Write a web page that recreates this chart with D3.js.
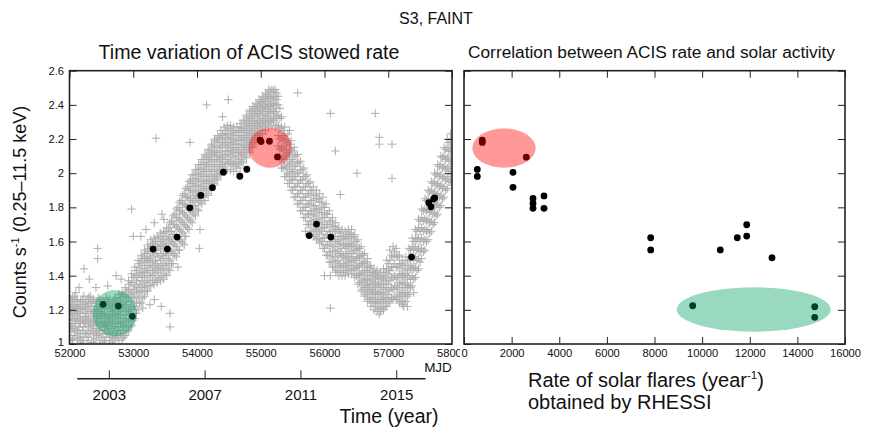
<!DOCTYPE html>
<html><head><meta charset="utf-8">
<script src="https://cdn.jsdelivr.net/npm/d3@7"></script>
<style>body{margin:0;background:#fff}svg{display:block}text{font-family:"Liberation Sans",Arial,Helvetica,sans-serif;fill:#111}</style>
</head><body><svg id="c" width="872" height="441"></svg>
<script>
// ---------- data ----------
const xTicksMJD = [52000,53000,54000,55000,56000,57000,58000];
const yTicks = [1,1.2,1.4,1.6,1.8,2,2.2,2.4,2.6];
const yearTicks = [2003,2007,2011,2015];
const flareTicks = [0,2000,4000,6000,8000,10000,12000,14000,16000];

// ACIS stowed rate measurements (black dots, left)
const acisMJD  = [52526,52766,52986,53311,53536,53688,53887,54060,54242,54414,54672,54782,54990,55005,55137,55262,55760,55875,56100,57366,57635,57671,57712,57728];
const acisRate = [1.232,1.222,1.162,1.556,1.556,1.626,1.797,1.870,1.916,2.006,1.982,2.023,2.194,2.185,2.187,2.095,1.635,1.702,1.626,1.509,1.827,1.803,1.850,1.855];

// correlation panel (right)
const flareRate = [769,769,2616,559,559,2058,2058,2898,2898,2898,3360,3360,7840,7840,10763,11477,11872,11872,12934,9604,14727,14727];
const flareAcis = [2.194,2.180,2.094,2.022,1.981,2.005,1.917,1.852,1.823,1.794,1.867,1.794,1.622,1.551,1.551,1.622,1.632,1.698,1.505,1.224,1.218,1.156];

// stowed background monitoring (grey crosses): [MJD, rates read in that column]
const bandCols = [
[52000,[1.05,1.11,1.14,1.19,1.24]],[52050,[1.03,1.09,1.15,1.18,1.22,1.27]],[52100,[1.07,1.12,1.17,1.21,1.25]],
[52150,[1.04,1.10,1.13,1.18,1.23]],[52200,[1.02,1.08,1.14,1.20,1.26]],[52250,[1.06,1.12,1.16,1.21,1.24]],
[52300,[1.04,1.10,1.15,1.22,1.27]],[52350,[1.08,1.13,1.18,1.22,1.25]],[52400,[1.03,1.09,1.14,1.19,1.24]],
[52450,[1.06,1.11,1.16,1.20,1.27]],[52500,[1.04,1.10,1.15,1.19,1.23]],[52550,[1.02,1.08,1.13,1.18,1.24]],
[52600,[1.06,1.11,1.15,1.21,1.25]],[52650,[1.04,1.09,1.14,1.19,1.22]],[52700,[1.03,1.10,1.16,1.21,1.26]],
[52750,[1.05,1.08,1.13,1.17,1.23]],[52800,[1.06,1.12,1.17,1.22,1.27]],[52850,[1.04,1.10,1.15,1.21,1.28]],
[52900,[1.07,1.13,1.19,1.25,1.31]],[52950,[1.10,1.17,1.22,1.29,1.35]],[53000,[1.14,1.21,1.27,1.32,1.39]],
[53050,[1.18,1.24,1.31,1.37,1.43]],[53100,[1.24,1.30,1.35,1.41,1.47]],[53150,[1.27,1.33,1.39,1.44,1.50]],
[53200,[1.31,1.36,1.42,1.48,1.53]],[53250,[1.34,1.40,1.45,1.50,1.56]],[53300,[1.37,1.43,1.48,1.54,1.59]],
[53350,[1.38,1.44,1.49,1.55,1.60]],[53400,[1.39,1.45,1.51,1.57,1.62]],[53450,[1.40,1.46,1.52,1.58,1.63]],
[53500,[1.41,1.47,1.53,1.59,1.65]],[53550,[1.44,1.50,1.56,1.62,1.68]],[53600,[1.47,1.54,1.60,1.66,1.72]],
[53650,[1.52,1.58,1.64,1.70,1.76]],[53700,[1.55,1.62,1.68,1.74,1.80]],[53750,[1.60,1.66,1.72,1.78,1.84]],
[53800,[1.63,1.70,1.76,1.82,1.88]],[53850,[1.68,1.74,1.80,1.86,1.92]],[53900,[1.72,1.78,1.84,1.90,1.96]],
[53950,[1.76,1.81,1.87,1.93,1.99]],[54000,[1.79,1.85,1.90,1.96,2.02]],[54050,[1.83,1.88,1.93,1.99,2.05]],
[54100,[1.86,1.91,1.96,2.02,2.08]],[54150,[1.88,1.94,1.99,2.05,2.10]],[54200,[1.91,1.96,2.02,2.08,2.13]],
[54250,[1.94,1.99,2.05,2.11,2.16]],[54300,[1.97,2.02,2.08,2.13,2.19]],[54350,[2.00,2.05,2.10,2.16,2.21]],
[54400,[2.03,2.08,2.13,2.18,2.23]],[54450,[2.05,2.10,2.15,2.20,2.25]],[54500,[2.06,2.11,2.16,2.21,2.26]],
[54550,[2.05,2.10,2.15,2.20,2.25]],[54600,[2.04,2.09,2.14,2.19,2.24]],[54650,[2.05,2.10,2.15,2.20,2.25]],
[54700,[2.07,2.12,2.17,2.22,2.27]],[54750,[2.10,2.15,2.20,2.25,2.30]],[54800,[2.13,2.18,2.23,2.28,2.33]],
[54850,[2.16,2.21,2.26,2.31,2.36]],[54900,[2.19,2.24,2.29,2.34,2.38]],[54950,[2.22,2.27,2.31,2.36,2.40]],
[55000,[2.25,2.29,2.34,2.38,2.42]],[55050,[2.27,2.31,2.36,2.40,2.44]],[55100,[2.29,2.33,2.38,2.42,2.46]],
[55150,[2.30,2.35,2.39,2.44,2.48]],[55200,[2.31,2.36,2.40,2.44,2.48]],[55250,[2.28,2.33,2.38,2.43,2.47]],
[55300,[2.08,2.14,2.20,2.26,2.32,2.38]],[55350,[2.03,2.08,2.13,2.19,2.25]],[55400,[1.98,2.03,2.09,2.14,2.20]],
[55450,[1.94,1.99,2.05,2.11,2.17]],[55500,[1.90,1.96,2.01,2.07,2.13]],[55550,[1.86,1.92,1.98,2.04,2.10]],
[55600,[1.82,1.88,1.94,2.00,2.06]],[55650,[1.78,1.84,1.90,1.96,2.02]],[55700,[1.74,1.80,1.86,1.92,1.98]],
[55750,[1.70,1.76,1.82,1.88,1.94]],[55800,[1.66,1.72,1.78,1.84,1.90]],[55850,[1.64,1.70,1.76,1.81,1.87]],
[55900,[1.62,1.68,1.73,1.79,1.85]],[55950,[1.60,1.66,1.71,1.77,1.83]],[56000,[1.56,1.62,1.68,1.74,1.80]],
[56050,[1.52,1.58,1.64,1.70,1.76]],[56100,[1.48,1.54,1.60,1.66,1.72]],[56150,[1.45,1.51,1.57,1.63,1.69]],
[56200,[1.43,1.49,1.55,1.61,1.67]],[56250,[1.42,1.47,1.53,1.59,1.65]],[56300,[1.42,1.47,1.52,1.58,1.63]],
[56350,[1.43,1.48,1.53,1.58,1.64]],[56400,[1.44,1.49,1.54,1.59,1.65]],[56450,[1.43,1.48,1.53,1.58,1.63]],
[56500,[1.40,1.45,1.50,1.55,1.60]],[56550,[1.36,1.41,1.46,1.51,1.56]],[56600,[1.32,1.37,1.42,1.47,1.52]],
[56650,[1.29,1.34,1.38,1.43,1.48]],[56700,[1.26,1.31,1.35,1.40,1.45]],[56750,[1.24,1.29,1.33,1.38,1.42]],
[56800,[1.22,1.27,1.31,1.36,1.41]],[56850,[1.21,1.26,1.30,1.35,1.40]],[56900,[1.21,1.26,1.30,1.35,1.39]],
[56950,[1.22,1.27,1.32,1.37,1.42]],[57000,[1.24,1.29,1.35,1.41,1.47]],[57050,[1.27,1.33,1.39,1.45,1.52]],
[57100,[1.28,1.34,1.40,1.47,1.54]],[57150,[1.27,1.33,1.39,1.45,1.51]],[57200,[1.25,1.30,1.36,1.41,1.47]],
[57250,[1.25,1.30,1.35,1.40,1.46]],[57300,[1.28,1.33,1.38,1.43,1.49]],[57350,[1.33,1.38,1.44,1.49,1.55]],
[57400,[1.38,1.44,1.49,1.55,1.60]],[57450,[1.43,1.49,1.55,1.61,1.66]],[57500,[1.48,1.54,1.60,1.66,1.72]],
[57550,[1.54,1.60,1.66,1.72,1.78]],[57600,[1.60,1.66,1.72,1.78,1.84]],[57650,[1.65,1.71,1.77,1.83,1.89]],
[57700,[1.70,1.76,1.82,1.88,1.94]],[57750,[1.75,1.81,1.87,1.93,1.99]],[57800,[1.80,1.86,1.92,1.98,2.04]],
[57850,[1.85,1.91,1.97,2.03,2.09]],[57900,[1.90,1.96,2.02,2.08,2.14]],[57950,[1.95,2.01,2.07,2.13,2.18]],
[58000,[1.98,2.04,2.10,2.15,2.20]]
];
// second pass of readings between the columns above
const bandColsB = [
[52025,[1.02,1.08,1.12,1.17,1.21,1.26]],[52075,[1.05,1.10,1.14,1.20,1.23,1.28]],[52125,[1.03,1.08,1.15,1.19,1.22,1.26]],
[52175,[1.01,1.06,1.12,1.16,1.21,1.25]],[52225,[1.04,1.10,1.13,1.18,1.23,1.28]],[52275,[1.02,1.07,1.14,1.18,1.22,1.26]],
[52325,[1.06,1.11,1.13,1.19,1.24,1.28]],[52375,[1.01,1.06,1.11,1.16,1.20,1.26]],[52425,[1.05,1.07,1.12,1.17,1.22,1.25]],
[52475,[1.02,1.08,1.13,1.18,1.21,1.26]],[52525,[1.01,1.06,1.12,1.17,1.21,1.25]],[52575,[1.04,1.10,1.11,1.16,1.22,1.27]],
[52625,[1.02,1.07,1.13,1.17,1.23,1.26]],[52675,[1.01,1.06,1.12,1.17,1.20,1.24]],[52725,[1.04,1.07,1.12,1.18,1.24,1.27]],
[52775,[1.02,1.10,1.15,1.20,1.25,1.29]],[52825,[1.03,1.08,1.13,1.19,1.24,1.30]],[52875,[1.05,1.11,1.17,1.23,1.28,1.33]],
[52925,[1.08,1.14,1.20,1.27,1.32,1.37]],[52975,[1.11,1.18,1.25,1.30,1.36,1.41]],[53025,[1.15,1.22,1.28,1.34,1.40,1.45]],
[53075,[1.20,1.27,1.33,1.39,1.45,1.49]],[53125,[1.24,1.31,1.37,1.42,1.48,1.52]],[53175,[1.28,1.34,1.40,1.46,1.51,1.55]],
[53225,[1.31,1.37,1.43,1.49,1.54,1.58]],[53275,[1.34,1.40,1.46,1.51,1.57,1.61]],[53325,[1.35,1.41,1.46,1.52,1.57,1.62]],
[53375,[1.36,1.42,1.47,1.53,1.58,1.63]],[53425,[1.37,1.43,1.49,1.55,1.60,1.65]],[53475,[1.38,1.44,1.50,1.56,1.61,1.66]],
[53525,[1.40,1.46,1.52,1.58,1.63,1.68]],[53575,[1.43,1.49,1.55,1.61,1.66,1.71]],[53625,[1.47,1.53,1.59,1.64,1.70,1.75]],
[53675,[1.51,1.57,1.63,1.69,1.74,1.79]],[53725,[1.55,1.61,1.67,1.73,1.78,1.83]],[53775,[1.59,1.65,1.71,1.77,1.82,1.87]],
[53825,[1.63,1.69,1.75,1.81,1.86,1.91]],[53875,[1.67,1.73,1.79,1.85,1.90,1.95]],[53925,[1.71,1.77,1.83,1.89,1.94,1.99]],
[53975,[1.75,1.81,1.86,1.92,1.97,2.02]],[54025,[1.78,1.84,1.89,1.95,2.00,2.05]],[54075,[1.82,1.87,1.92,1.98,2.03,2.08]],
[54125,[1.84,1.90,1.95,2.01,2.06,2.11]],[54175,[1.87,1.92,1.98,2.04,2.09,2.14]],[54225,[1.90,1.95,2.01,2.07,2.12,2.17]],
[54275,[1.93,1.98,2.04,2.10,2.15,2.20]],[54325,[1.96,2.01,2.07,2.12,2.18,2.22]],[54375,[1.99,2.04,2.09,2.15,2.20,2.25]],
[54425,[2.01,2.06,2.11,2.17,2.22,2.27]],[54475,[2.02,2.08,2.13,2.18,2.23,2.28]],[54525,[2.02,2.07,2.13,2.18,2.23,2.28]],
[54575,[2.01,2.06,2.12,2.17,2.22,2.27]],[54625,[2.01,2.06,2.12,2.17,2.22,2.27]],[54675,[2.03,2.08,2.13,2.19,2.24,2.29]],
[54725,[2.06,2.11,2.16,2.21,2.26,2.31]],[54775,[2.09,2.14,2.19,2.24,2.29,2.34]],[54825,[2.12,2.17,2.22,2.27,2.32,2.37]],
[54875,[2.15,2.20,2.25,2.30,2.35,2.39]],[54925,[2.18,2.23,2.28,2.33,2.37,2.41]],[54975,[2.21,2.26,2.30,2.35,2.39,2.43]],
[55025,[2.23,2.28,2.32,2.37,2.41,2.45]],[55075,[2.25,2.30,2.34,2.39,2.43,2.47]],[55125,[2.27,2.31,2.36,2.40,2.45,2.49]],
[55175,[2.28,2.32,2.37,2.41,2.45,2.49]],[55225,[2.27,2.32,2.36,2.41,2.45,2.49]],[55275,[2.16,2.22,2.28,2.34,2.40,2.45]],
[55325,[2.03,2.09,2.15,2.21,2.27,2.33]],[55375,[1.98,2.04,2.10,2.16,2.22,2.27]],[55425,[1.94,2.00,2.06,2.12,2.18,2.23]],
[55475,[1.90,1.96,2.02,2.08,2.14,2.19]],[55525,[1.86,1.92,1.98,2.04,2.10,2.15]],[55575,[1.82,1.88,1.94,2.00,2.06,2.11]],
[55625,[1.78,1.84,1.90,1.96,2.02,2.07]],[55675,[1.74,1.80,1.86,1.92,1.98,2.03]],[55725,[1.70,1.76,1.82,1.88,1.94,1.99]],
[55775,[1.66,1.72,1.78,1.84,1.90,1.95]],[55825,[1.63,1.69,1.75,1.81,1.87,1.92]],[55875,[1.61,1.67,1.73,1.79,1.85,1.90]],
[55925,[1.59,1.65,1.71,1.77,1.83,1.88]],[55975,[1.56,1.62,1.68,1.74,1.80,1.86]],[56025,[1.52,1.58,1.64,1.70,1.76,1.82]],
[56075,[1.48,1.54,1.60,1.66,1.72,1.78]],[56125,[1.45,1.51,1.57,1.63,1.69,1.74]],[56175,[1.42,1.48,1.54,1.60,1.66,1.71]],
[56225,[1.40,1.46,1.52,1.58,1.63,1.68]],[56275,[1.40,1.45,1.51,1.56,1.62,1.67]],[56325,[1.40,1.45,1.50,1.56,1.61,1.66]],
[56375,[1.41,1.46,1.51,1.57,1.62,1.67]],[56425,[1.41,1.46,1.51,1.57,1.62,1.67]],[56475,[1.39,1.44,1.49,1.55,1.60,1.64]],
[56525,[1.35,1.40,1.45,1.51,1.56,1.61]],[56575,[1.31,1.36,1.41,1.47,1.52,1.57]],[56625,[1.28,1.33,1.38,1.43,1.48,1.53]],
[56675,[1.25,1.30,1.35,1.40,1.45,1.50]],[56725,[1.22,1.27,1.32,1.37,1.42,1.46]],[56775,[1.20,1.25,1.30,1.35,1.40,1.44]],
[56825,[1.19,1.24,1.29,1.34,1.39,1.43]],[56875,[1.19,1.24,1.29,1.33,1.38,1.42]],[56925,[1.20,1.25,1.30,1.35,1.40,1.44]],
[56975,[1.22,1.27,1.33,1.38,1.44,1.49]],[57025,[1.25,1.31,1.37,1.43,1.49,1.55]],[57075,[1.26,1.32,1.39,1.45,1.51,1.57]],
[57125,[1.26,1.32,1.38,1.45,1.51,1.56]],[57175,[1.24,1.29,1.35,1.41,1.47,1.52]],[57225,[1.23,1.28,1.33,1.39,1.44,1.49]],
[57275,[1.25,1.30,1.35,1.41,1.46,1.51]],[57325,[1.29,1.34,1.40,1.46,1.51,1.56]],[57375,[1.34,1.40,1.45,1.51,1.57,1.62]],
[57425,[1.39,1.45,1.51,1.57,1.62,1.67]],[57475,[1.44,1.50,1.56,1.62,1.68,1.73]],[57525,[1.50,1.56,1.62,1.68,1.74,1.79]],
[57575,[1.55,1.61,1.67,1.73,1.79,1.85]],[57625,[1.61,1.67,1.73,1.79,1.85,1.90]],[57675,[1.66,1.72,1.78,1.84,1.90,1.95]],
[57725,[1.71,1.77,1.83,1.89,1.95,2.00]],[57775,[1.76,1.82,1.88,1.94,2.00,2.05]],[57825,[1.81,1.87,1.93,1.99,2.05,2.10]],
[57875,[1.86,1.92,1.98,2.04,2.10,2.15]],[57925,[1.91,1.97,2.03,2.09,2.15,2.20]],[57975,[1.95,2.01,2.07,2.13,2.18,2.23]]
];
// scattered grey crosses away from the band [MJD, rate]
const outliers = [
[52227,1.44],[52442,1.56],[52442,1.50],[52311,1.38],[52600,1.34],[52730,1.40],[52810,1.38],[52415,1.33],
[52975,1.79],[53200,1.67],[53330,1.71],[53450,1.76],[53480,1.73],[53000,1.63],[53120,1.63],
[53150,1.21],[53260,1.23],[53330,1.26],[53440,1.22],[53577,1.18],[53577,1.10],[53357,2.205],[53890,2.18],
[54035,1.56],[54047,1.67],[54152,2.40],[54400,2.33],[54490,2.43],[55580,2.47],[56091,2.35],[56797,2.35],
[56170,2.13],[56860,2.21],[56860,2.17],[57059,2.17],[56510,2.0],[57059,1.97],[56248,1.875],[56091,1.21],
[57243,1.22],[56091,1.40],[56860,1.175],[52100,1.30],[52150,1.33],[52050,1.02],[52350,1.01],[53700,1.45],
[53800,1.58],[55450,2.25],[55700,1.66],[56000,1.40],[57400,1.30],[57300,1.22]
];

// highlight ellipses: [centre x, centre rate, half-width (x units), half-height (rate units)]
const ellLeft  = [{c:[52709,1.180,345,0.136],col:"#00a060"},{c:[55145,2.149,340,0.117],col:"#ff0000"}];
const ellRight = [{c:[1680,2.147,1331,0.115],col:"#ff0000"},{c:[12166,1.202,3234,0.130],col:"#00a060"}];

// ---------- layout ----------
const svg = d3.select("#c");
const FONT = '"Liberation Sans",Arial,Helvetica,sans-serif';
const x = d3.scaleLinear().domain([52000,58000]).range([69.5,452]);
const y = d3.scaleLinear().domain([1,2.6]).range([344,70.7]);
const x2 = d3.scaleLinear().domain([0,16000]).range([464,845]);
const yr = d3.scaleLinear().domain([2001.66,2016.2]).range([76.7,425]);

const defs = svg.append("defs");
defs.append("clipPath").attr("id","clipL").append("rect").attr("x",69.5).attr("y",70.7).attr("width",382.5).attr("height",273.3);
defs.append("clipPath").attr("id","clipR").append("rect").attr("x",464).attr("y",70.7).attr("width",381).attr("height",273.3);
defs.append("clipPath").attr("id","clipLab").append("rect").attr("x",0).attr("y",0).attr("width",460).attr("height",441);

// titles
svg.append("text").attr("x",436).attr("y",24).attr("text-anchor","middle").attr("font-size",16).text("S3, FAINT");
svg.append("text").attr("x",249).attr("y",59).attr("text-anchor","middle").attr("font-size",19.6).text("Time variation of ACIS stowed rate");
svg.append("text").attr("x",651.5).attr("y",58).attr("text-anchor","middle").attr("font-size",17.3).text("Correlation between ACIS rate and solar activity");

// ---------- left panel ----------
const crossPath = "M-4.2,0H4.2M0,-4.2V4.2";
const gL = svg.append("g").attr("clip-path","url(#clipL)");
const toPts = cols => cols.flatMap(([m,rs]) => rs.map(r => [m,r]));
const bandPts = toPts(bandCols).concat(toPts(bandColsB), outliers);
gL.selectAll("path.cr").data(bandPts).join("path").attr("class","cr")
  .attr("d",crossPath).attr("transform",d=>`translate(${x(d[0])},${y(d[1])})`)
  .attr("stroke","#adadad").attr("stroke-width",1).attr("fill","none");
gL.selectAll("circle.pt").data(acisMJD.map((m,i)=>[m,acisRate[i]])).join("circle").attr("class","pt")
  .attr("cx",d=>x(d[0])).attr("cy",d=>y(d[1])).attr("r",3.4).attr("fill","#000");
gL.selectAll("ellipse").data(ellLeft).join("ellipse")
  .attr("cx",d=>x(d.c[0])).attr("cy",d=>y(d.c[1]))
  .attr("rx",d=>x(d.c[0]+d.c[2])-x(d.c[0])).attr("ry",d=>y(d.c[1]-d.c[3])-y(d.c[1]))
  .attr("fill",d=>d.col).attr("fill-opacity",0.4);

function styleAxis(g, fs){
  g.select(".domain").remove();
  g.selectAll(".tick line").attr("stroke","#222").attr("stroke-width",1);
  g.selectAll(".tick text").attr("font-size",fs).attr("font-family",FONT).attr("fill","#111");
}
const fmtY = d => (Math.round(d*10)/10).toString();
const gxb = svg.append("g").attr("transform","translate(0,344)").attr("clip-path","url(#clipLab)")
  .call(d3.axisBottom(x).tickValues(xTicksMJD).tickFormat(d3.format("d")).tickSize(-7).tickPadding(5));
styleAxis(gxb,11.2);
const gxt = svg.append("g").attr("transform","translate(0,70.7)")
  .call(d3.axisTop(x).tickValues(xTicksMJD).tickFormat("").tickSize(-7));
styleAxis(gxt,11);
const gyl = svg.append("g").attr("transform","translate(69.5,0)")
  .call(d3.axisLeft(y).tickValues(yTicks).tickFormat(fmtY).tickSize(-7).tickPadding(5.5));
styleAxis(gyl,11.2);
gyl.selectAll(".tick text").filter(d=>d===1).attr("dy","0.1em");
const gyr = svg.append("g").attr("transform","translate(452,0)")
  .call(d3.axisRight(y).tickValues(yTicks).tickFormat("").tickSize(-7));
styleAxis(gyr,11);
svg.append("rect").attr("x",69.5).attr("y",70.7).attr("width",382.5).attr("height",273.3)
  .attr("fill","none").attr("stroke","#222").attr("stroke-width",1.6);

svg.append("text").attr("x",438).attr("y",372).attr("text-anchor","middle").attr("font-size",13.5).text("MJD");

// year axis
const gyear = svg.append("g").attr("transform","translate(0,378.3)")
  .call(d3.axisBottom(yr).tickValues(yearTicks).tickFormat(d3.format("d")).tickSize(-8).tickPadding(11).tickSizeOuter(0));
gyear.select(".domain").attr("stroke","#222").attr("stroke-width",1.4);
gyear.selectAll(".tick line").attr("stroke","#222").attr("stroke-width",1);
gyear.selectAll(".tick text").attr("font-size",15).attr("font-family",FONT).attr("fill","#111");
svg.append("text").attr("x",389).attr("y",423).attr("text-anchor","middle").attr("font-size",19.5).text("Time (year)");

// y label
const yl = svg.append("text").attr("transform","translate(26,212) rotate(-90)").attr("text-anchor","middle").attr("font-size",18);
yl.append("tspan").text("Counts s");
yl.append("tspan").attr("font-size",11).attr("dy",-7).text("-1");
yl.append("tspan").attr("dy",7).text(" (0.25\u201311.5 keV)");

// ---------- right panel ----------
const gR = svg.append("g").attr("clip-path","url(#clipR)");
gR.selectAll("circle").data(flareRate.map((f,i)=>[f,flareAcis[i]])).join("circle")
  .attr("cx",d=>x2(d[0])).attr("cy",d=>y(d[1])).attr("r",3.4).attr("fill","#000");
gR.selectAll("ellipse").data(ellRight).join("ellipse")
  .attr("cx",d=>x2(d.c[0])).attr("cy",d=>y(d.c[1]))
  .attr("rx",d=>x2(d.c[0]+d.c[2])-x2(d.c[0])).attr("ry",d=>y(d.c[1]-d.c[3])-y(d.c[1]))
  .attr("fill",d=>d.col).attr("fill-opacity",0.4);

const rxb = svg.append("g").attr("transform","translate(0,344)")
  .call(d3.axisBottom(x2).tickValues(flareTicks).tickFormat(d3.format("d")).tickSize(-7).tickPadding(5));
styleAxis(rxb,11.2);
const rxt = svg.append("g").attr("transform","translate(0,70.7)")
  .call(d3.axisTop(x2).tickValues(flareTicks).tickFormat("").tickSize(-7));
styleAxis(rxt,11);
const ryl = svg.append("g").attr("transform","translate(464,0)")
  .call(d3.axisLeft(y).tickValues(yTicks).tickFormat("").tickSize(-7));
styleAxis(ryl,11);
const ryr = svg.append("g").attr("transform","translate(845,0)")
  .call(d3.axisRight(y).tickValues(yTicks).tickFormat("").tickSize(-7));
styleAxis(ryr,11);
svg.append("rect").attr("x",464).attr("y",70.7).attr("width",381).attr("height",273.3)
  .attr("fill","none").attr("stroke","#222").attr("stroke-width",1.6);

const xl = svg.append("text").attr("x",528).attr("y",387).attr("font-size",20);
xl.append("tspan").text("Rate of solar flares (year");
xl.append("tspan").attr("font-size",11.5).attr("dy",-8).text("-1");
xl.append("tspan").attr("dy",8).text(")");
svg.append("text").attr("x",528).attr("y",408.5).attr("font-size",20).text("obtained by RHESSI");
</script></body></html>
